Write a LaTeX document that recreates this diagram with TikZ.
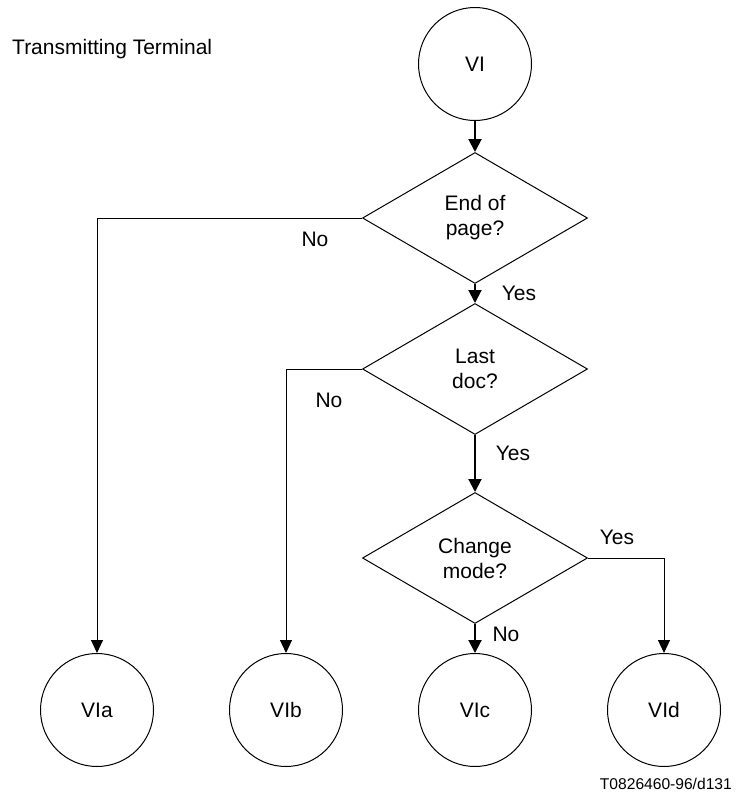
\documentclass[tikz,border=0pt]{standalone}
\usepackage{fontspec}
\setmainfont{Liberation Sans}
\usetikzlibrary{shapes.geometric,arrows.meta}
\begin{document}
\begin{tikzpicture}[x=1pt,y=-1pt,
  circ/.style={draw,circle,line width=1pt,minimum size=113pt,inner sep=0pt,font=\fontsize{21}{25}\selectfont},
  dec/.style={draw,diamond,line width=1pt,minimum width=225pt,minimum height=131pt,inner sep=0pt,align=center,font=\fontsize{21}{25}\selectfont},
  lbl/.style={font=\fontsize{21}{25}\selectfont,inner sep=0pt},
  mainarr/.style={line width=2pt,-{Triangle[length=13pt,width=13pt]}},
  sidearr/.style={line width=1pt,-{Triangle[length=13pt,width=12pt]}},
]
\useasboundingbox (0,0) rectangle (736,798);
\node[lbl,anchor=west] (title) at (12,49) {Transmitting Terminal};
\node[circ] (VI) at (475,64) {VI};
\node[dec] (D1) at (475,218) {End of\\page?};
\node[dec] (D2) at (475,369) {Last\\doc?};
\node[dec] (D3) at (475,558) {Change\\mode?};
\node[circ] (VIa) at (97,710) {VIa};
\node[circ] (VIb) at (286,710) {VIb};
\node[circ] (VIc) at (475,710) {VIc};
\node[circ] (VId) at (664,710) {VId};
\draw[mainarr] (VI.south) -- (D1.north);
\draw[mainarr] (D1.south) -- (D2.north);
\draw[mainarr] (D2.south) -- (D3.north);
\draw[mainarr] (D3.south) -- (VIc.north);
\draw[sidearr] (D1.west) -| (VIa.north);
\draw[sidearr] (D2.west) -| (VIb.north);
\draw[sidearr] (D3.east) -| (VId.north);
\node[lbl] (n1) at (315,239) {No};
\node[lbl] (y1) at (519,293) {Yes};
\node[lbl] (n2) at (329,400) {No};
\node[lbl] (y2) at (513,453) {Yes};
\node[lbl] (y3) at (617,537) {Yes};
\node[lbl] (n3) at (506,634) {No};
\node[font=\fontsize{15.6}{18}\selectfont,inner sep=0pt,anchor=east] (ref) at (732,784) {T0826460-96/d131};
\end{tikzpicture}
\end{document}
